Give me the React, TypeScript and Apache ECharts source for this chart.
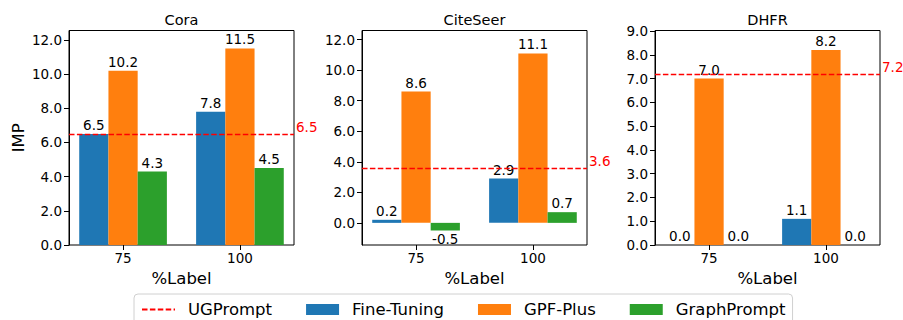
import React, { useEffect, useRef } from "react";
import * as echarts from "echarts";

const datasets = ["Cora", "CiteSeer", "DHFR"];
const categories = ["75", "100"];
const fineTuning = [
  [6.5, 7.8],
  [0.2, 2.9],
  [0.0, 1.1],
];
const gpfPlus = [
  [10.2, 11.5],
  [8.6, 11.1],
  [7.0, 8.2],
];
const graphPrompt = [
  [4.3, 4.5],
  [-0.5, 0.7],
  [0.0, 0.0],
];
const ugPrompt = [6.5, 3.6, 7.2];
const yMin = [0, -1.45, 0];
const yMax = [12.55, 12.6, 9.02];
const yTicks = [
  [0, 2, 4, 6, 8, 10, 12],
  [0, 2, 4, 6, 8, 10, 12],
  [0, 1, 2, 3, 4, 5, 6, 7, 8, 9],
];
const legendNames = ["UGPrompt", "Fine-Tuning", "GPF-Plus", "GraphPrompt"];

const FONT = "DejaVu Sans";
const frameLeft = [69, 362, 655];
const frameWidth = 225;
const frameTop = 30.5;
const frameBottom = 75;
const xPad = 0.4625; // matplotlib x-limits around category positions
const unit = frameWidth / (1 + 2 * xPad);
const dash = [5.5, 2.4];

export default function App() {
  const ref = useRef<HTMLDivElement>(null);
  useEffect(() => {
    document.body.style.margin = "0";
    if (!ref.current) return;
    const chart = echarts.init(ref.current, null, { renderer: "svg" });

    const grids: any[] = [];
    const xAxes: any[] = [];
    const yAxes: any[] = [];
    const series: any[] = [];

    datasets.forEach((_, i) => {
      grids.push({
        left: frameLeft[i],
        top: frameTop,
        width: frameWidth,
        bottom: frameBottom,
        show: true,
        backgroundColor: "transparent",
        borderColor: "#000",
        borderWidth: 1,
      });
    });
    datasets.forEach((_, i) => {
      const off = (xPad - 0.5) * unit;
      grids.push({
        left: frameLeft[i] + off,
        top: frameTop,
        width: 2 * unit,
        bottom: frameBottom,
        show: false,
      });
    });

    datasets.forEach((_, i) => {
      xAxes.push({
        type: "value",
        gridIndex: i,
        min: -xPad,
        max: 1 + xPad,
        show: false,
      });
      yAxes.push({
        type: "value",
        gridIndex: i,
        min: yMin[i],
        max: yMax[i],
        axisLine: { show: true, onZero: false, lineStyle: { color: "#000", width: 1 } },
        axisTick: {
          show: true,
          length: 5,
          customValues: yTicks[i],
          lineStyle: { color: "#000", width: 1 },
        },
        axisLabel: {
          customValues: yTicks[i],
          formatter: (v: number) => v.toFixed(1),
          margin: 7,
          fontSize: 13.5,
          color: "#000",
          fontFamily: FONT,
        },
        splitLine: { show: false },
        name: i === 0 ? "IMP" : "",
        nameLocation: "middle",
        nameGap: 42,
        nameTextStyle: { fontSize: 16.5, color: "#000", fontFamily: FONT },
      });
    });
    datasets.forEach((_, i) => {
      xAxes.push({
        type: "category",
        gridIndex: 3 + i,
        data: categories,
        axisLine: { show: false, onZero: false },
        axisTick: {
          show: true,
          alignWithLabel: true,
          length: 5,
          lineStyle: { color: "#000", width: 1 },
        },
        axisLabel: { fontSize: 13.5, color: "#000", margin: 6, fontFamily: FONT },
        name: "%Label",
        nameLocation: "middle",
        nameGap: 23,
        nameTextStyle: { fontSize: 16.5, color: "#000", fontFamily: FONT },
      });
      yAxes.push({
        type: "value",
        gridIndex: 3 + i,
        min: yMin[i],
        max: yMax[i],
        show: false,
        splitLine: { show: false },
      });
    });

    const barDefs = [
      { name: "Fine-Tuning", data: fineTuning, color: "#1f77b4" },
      { name: "GPF-Plus", data: gpfPlus, color: "#ff7f0e" },
      { name: "GraphPrompt", data: graphPrompt, color: "#2ca02c" },
    ];

    datasets.forEach((_, i) => {
      barDefs.forEach((b) => {
        series.push({
          type: "bar",
          name: b.name,
          xAxisIndex: 3 + i,
          yAxisIndex: 3 + i,
          barWidth: "25%",
          barGap: "0%",
          itemStyle: { color: b.color },
          label: {
            show: true,
            distance: 2,
            fontSize: 13.5,
            color: "#000",
            fontFamily: FONT,
            formatter: (p: any) => Number(p.value).toFixed(1),
          },
          data: b.data[i].map((v) => ({
            value: v,
            label: { position: v < 0 ? "bottom" : "top" },
          })),
        });
      });
      series.push({
        type: "line",
        name: "UGPrompt",
        xAxisIndex: i,
        yAxisIndex: i,
        data: [],
        symbol: "none",
        z: 5,
        itemStyle: { color: "red" },
        lineStyle: { color: "red", type: dash, width: 1.4 },
        markLine: {
          silent: true,
          symbol: "none",
          lineStyle: { color: "red", type: dash, width: 1.4 },
          label: {
            show: true,
            position: "end",
            distance: 2,
            color: "red",
            fontSize: 13.5,
            lineHeight: 13,
            fontFamily: FONT,
            formatter: ugPrompt[i].toFixed(1) + "\n ",
          },
          data: [{ yAxis: ugPrompt[i] }],
        },
      });
    });

    const option: any = {
      animation: false,
      textStyle: { fontFamily: FONT },
      title: datasets.map((d, i) => ({
        text: d,
        left: frameLeft[i] + frameWidth / 2,
        top: 12,
        textAlign: "center",
        padding: 0,
        textStyle: { fontSize: 14.5, fontWeight: "normal", color: "#000", fontFamily: FONT },
      })),
      legend: {
        data: legendNames.map((n, k) =>
          k === 0 ? { name: n, itemStyle: { opacity: 0 } } : { name: n, icon: "rect" }
        ),
        selectedMode: false,
        left: 134,
        top: 294,
        orient: "horizontal",
        itemWidth: 33,
        itemHeight: 11,
        itemGap: 34,
        padding: [7, 7, 12, 7],
        borderColor: "#d0d0d0",
        borderWidth: 1,
        borderRadius: 4,
        backgroundColor: "rgba(255,255,255,0.8)",
        textStyle: { fontSize: 16.5, color: "#000", fontFamily: FONT, padding: [0, 0, 0, 8] },
      },
      grid: grids,
      xAxis: xAxes,
      yAxis: yAxes,
      series,
    };
    chart.setOption(option);
    return () => chart.dispose();
  }, []);
  return <div ref={ref} style={{ width: 903, height: 320 }} />;
}
